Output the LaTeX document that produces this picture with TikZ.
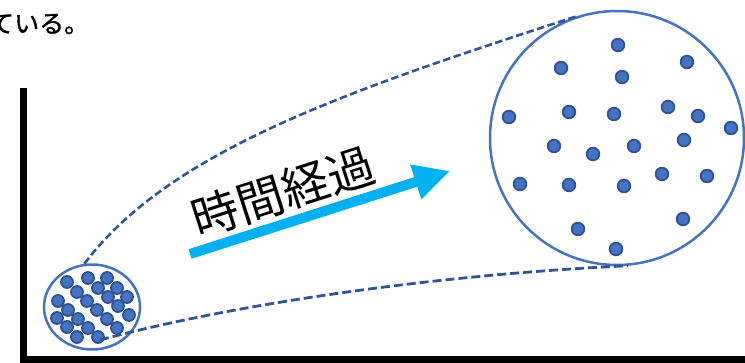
\documentclass[tikz,border=0pt]{standalone}
\usepackage{fontspec}
\setmainfont{Noto Sans CJK JP}
\newfontfamily\jpheavy[FakeBold=1.2]{Noto Sans CJK JP}
\usetikzlibrary{arrows.meta,shapes.geometric}
\definecolor{dotfill}{HTML}{4472C4}
\definecolor{dotedge}{HTML}{2F528F}
\definecolor{ringcol}{HTML}{4472C4}
\definecolor{dashcol}{HTML}{2F5597}
\definecolor{arrcol}{HTML}{00B0F0}
\tikzset{
  dotmark/.style={fill=dotfill,draw=dotedge,line width=1.8pt},
  ring/.style={draw=ringcol,line width=2.5pt,inner sep=0pt},
  dashline/.style={draw=dashcol,line width=2.8pt,dash pattern=on 9pt off 4pt},
}
\begin{document}
\begin{tikzpicture}[x=1pt,y=-1pt]
\useasboundingbox (0,0) rectangle (745,362);
\clip (0,0) rectangle (745,362);
% top-left text fragment
\node[anchor=west,inner sep=0pt,font=\jpheavy\fontsize{25pt}{29pt}\selectfont] (frag) at (-11,24) {ている。};
% axes
\draw[line width=7pt,miter limit=10] (23,88) -- (23,359) -- (750,359);
% small circle
\node[ring,ellipse,minimum width=96pt,minimum height=85pt] (small) at (92,307) {};
\foreach \x/\y in {67/282,88/278,107/278,77/292,98/288,117/288,58/301,87/301,108/297,127/297,
                   68/310,97/310,118/306,57/318,78/319,107/319,129/315,67/327,88/328,117/328,77/337,98/337}
  \filldraw[dotmark] (\x,\y) circle (6);
% big circle
\node[ring,circle,minimum size=254pt] (big) at (617,138) {};
\foreach \x/\y in {618/45,561/68,687/62,622/77,509/117,569/112,614/114,668/107,698/116,731/128,
                   554/146,593/154,634/146,684/140,520/184,569/185,624/186,662/174,707/176,578/229,683/219,616/249}
  \filldraw[dotmark] (\x,\y) circle (6.3);
% dashed connectors
\coordinate (ls) at (100,340);
\draw[dashline,line width=2.6pt,dash pattern=on 7.5pt off 3.5pt] (small.100) .. controls (170,150) and (350,90) .. (big.108);
\draw[dashline] (ls) .. controls (230,305) and (430,275) .. (big.-85);
% arrow
\coordinate (at) at (190,254);
\coordinate (ah) at (450,171);
\draw[arrcol,line width=10pt,-{Triangle[length=36pt,width=34pt]}] (at) -- (ah);
\node[rotate=17.7,inner sep=0pt,font=\fontsize{47pt}{50pt}\selectfont] (lbl) at (283,192) {時間経過};
\end{tikzpicture}
\end{document}
